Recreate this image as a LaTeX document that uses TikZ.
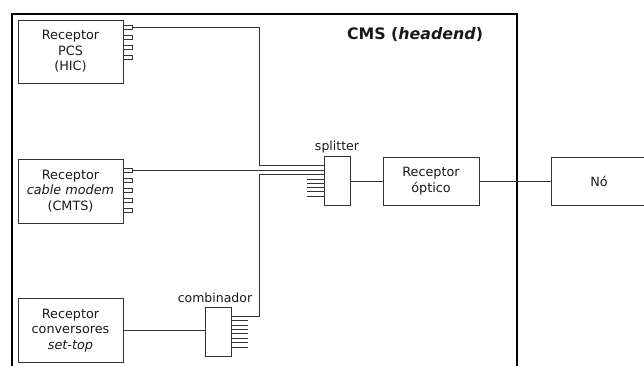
\documentclass[tikz,border=0pt]{standalone}
\usepackage{fontspec}
\setmainfont{DejaVu Sans}
\usetikzlibrary{calc}
\definecolor{linec}{gray}{0.2}
\definecolor{txtc}{gray}{0.1}
\begin{document}
\begin{tikzpicture}[x=1pt,y=-1pt,
  box/.style={draw=linec, line width=0.85pt, inner sep=0pt, align=center, text=txtc, font=\fontsize{12.8}{15.5}\selectfont},
  port/.style={draw=linec, line width=0.8pt, minimum width=9pt, minimum height=4pt, inner sep=0pt, fill=white},
  wire/.style={draw=linec, line width=0.85pt},
  lbl/.style={font=\fontsize{12.5}{14}\selectfont, inner sep=0pt, text=txtc},
  frame/.style={draw=black, line width=1.6pt}]
\useasboundingbox (0,0) rectangle (644,365);
% CMS frame
\coordinate (fbl) at (12,385);
\coordinate (ftl) at (12,14);
\coordinate (ftr) at (517,14);
\coordinate (fbr) at (517,385);
\draw[frame] (fbl) -- (ftl) -- (ftr) -- (fbr);
\node[font=\bfseries\fontsize{15.8}{17}\selectfont, anchor=base, text=txtc] (cms) at (415,39) {CMS (\textit{headend})};
% receivers
\node[box, minimum width=105pt, minimum height=63pt] (pcs) at (70.5,51.5) {Receptor\\PCS\\(HIC)};
\node[box, minimum width=105pt, minimum height=64pt] (cm) at (70.5,191) {Receptor\\\textit{cable modem}\\(CMTS)};
\node[box, minimum width=105pt, minimum height=64pt] (set) at (70.5,330.5) {Receptor\\conversores\\\textit{set-top}};
% ports
\foreach \i/\y in {1/27,2/37,3/47,4/57} \node[port] (pcs\i) at (127.5,\y) {};
\foreach \i/\y in {1/170,2/180,3/190,4/200,5/210} \node[port] (cm\i) at (127.5,\y) {};
% splitter, combiner, optical receiver, node
\node[box, minimum width=26pt, minimum height=49pt] (spl) at (337,181) {};
\node[lbl, anchor=south] (spllbl) at ([yshift=3pt]spl.north) {splitter};
\node[box, minimum width=26pt, minimum height=49pt] (comb) at (218,331.5) {};
\node[lbl, anchor=south] (comblbl) at ([yshift=4pt,xshift=-3pt]comb.north) {combinador};
\node[box, minimum width=96pt, minimum height=48pt] (ropt) at (431,181) {Receptor\\óptico};
\node[box, minimum width=96pt, minimum height=48pt] (no) at (599,181) {Nó};
% wires
\draw[wire] (pcs1.east) -| (259,165) -- ($(spl.west)+(0,-16)$);
\draw[wire] (cm1.east) -- (cm1.east -| spl.west);
\draw[wire] ($(comb.east)+(0,-15.5)$) -| (259,174) -- ($(spl.west)+(0,-7)$);
\draw[wire] (set.east) -- (set.east -| comb.west);
\draw[wire] (spl) -- (ropt);
\draw[wire] (ropt) -- (no);
% stubs
\foreach \d in {-2,2.3,6.6,10.9,15.2} \draw[wire] ($(spl.west)+(0,\d)$) -- ++(-17,0);
\foreach \d in {-10.8,-6.4,-2,2.4,6.8,11.2,15.6} \draw[wire] ($(comb.east)+(0,\d)$) -- ++(17,0);
\end{tikzpicture}
\end{document}
